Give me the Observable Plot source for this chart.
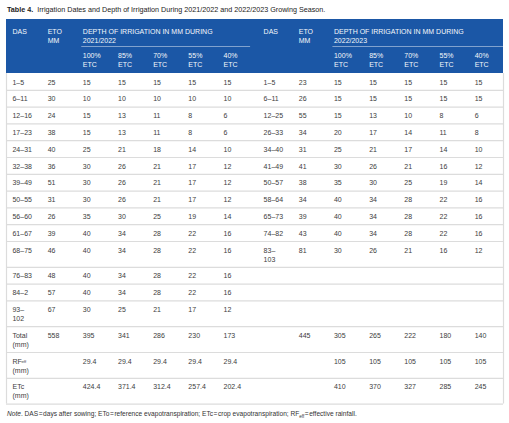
<!DOCTYPE html>
<html><head><meta charset="utf-8">
<script src="https://cdn.jsdelivr.net/npm/d3@7"></script>
<script src="https://cdn.jsdelivr.net/npm/@observablehq/plot@0.6"></script>
<style>
body{margin:0;background:#fff;font-family:"Liberation Sans",Arial,sans-serif;}
#title{height:19px;line-height:19px;padding-left:7px;font-size:7.2px;color:#222;white-space:nowrap}
#chart svg{display:block}
#note{padding-left:7px;font-size:6.6px;color:#333;line-height:16px;white-space:nowrap}
</style></head><body>
<div id="title"><b>Table 4.</b>&nbsp; Irrigation Dates and Depth of Irrigation During 2021/2022 and 2022/2023 Growing Season.</div>
<div id="chart"></div>
<div id="note"><i>Note</i>. DAS&#8202;=&#8202;days after sowing; ETo&#8202;=&#8202;reference evapotranspiration; ETc&#8202;=&#8202;crop evapotranspiration; RF<sub style="font-size:4.5px">eff</sub>&#8202;=&#8202;effective rainfall.</div>
<script>
// ---- header labels ----
const headLeft  = ["DAS", "ETO\nMM", "DEPTH OF IRRIGATION IN MM DURING\n2021/2022"];
const headRight = ["DAS", "ETO\nMM", "DEPTH OF IRRIGATION IN MM DURING\n2022/2023"];
const etcLabels = ["100%\nETC", "85%\nETC", "70%\nETC", "55%\nETC", "40%\nETC"];

// ---- 2021/2022 ----
const das1   = ["1–5","6–11","12–16","17–23","24–31","32–38","39–49","50–55","56–60","61–67","68–75","76–83","84–2","93–\n102"];
const eto1   = [25,30,24,38,40,36,51,31,26,39,46,48,57,67];
const c100_1 = [15,10,15,15,25,30,30,30,35,40,40,40,40,30];
const c85_1  = [15,10,13,13,21,26,26,26,30,34,34,34,34,25];
const c70_1  = [15,10,11,11,18,21,21,21,25,28,28,28,28,21];
const c55_1  = [15,10,8,8,14,17,17,17,19,22,22,22,22,17];
const c40_1  = [15,10,6,6,10,12,12,12,14,16,16,16,16,12];
const total1 = [558,395,341,286,230,173];
const rf1    = ["",29.4,29.4,29.4,29.4,29.4];
const etc1   = ["",424.4,371.4,312.4,257.4,202.4];

// ---- 2022/2023 ----
const das2   = ["1–5","6–11","12–25","26–33","34–40","41–49","50–57","58–64","65–73","74–82","83–\n103"];
const eto2   = [23,26,55,34,31,41,38,34,39,43,81];
const c100_2 = [15,15,15,20,25,30,35,40,40,40,30];
const c85_2  = [15,15,13,17,21,26,30,34,34,34,26];
const c70_2  = [15,15,10,14,17,21,25,28,28,28,21];
const c55_2  = [15,15,8,11,14,16,19,22,22,22,16];
const c40_2  = [15,15,6,8,10,12,14,16,16,16,12];
const total2 = [445,305,265,222,180,140];
const rf2    = ["",105,105,105,105,105];
const etc2   = ["",410,370,327,285,245];

const summaryLabels = ["Total\n(mm)", "RF\n(mm)", "ETc\n(mm)"];

// ---- layout constants (style) ----
const BLUE = "#1b57a6", TEXT = "#3d3d3d", GRID = "#dcdcdc";
const FS = 7, LH = 1.29;
const X_MIN = -0.17, X_MAX = 13.96, RIGHT_OFFSET = 7.14, HALF_END = 6.77;
const HEAD_H = 54, HEAD_DIV = 27, ROW_H = 16.8, EXTRA = 9, PAD = 4.6, HEAD_PAD = 7.6;

// ---- build table ----
const rows = [];
for (let i = 0; i < das1.length; i++) {
  const left = [das1[i], eto1[i], c100_1[i], c85_1[i], c70_1[i], c55_1[i], c40_1[i]];
  const right = i < das2.length ? [das2[i], eto2[i], c100_2[i], c85_2[i], c70_2[i], c55_2[i], c40_2[i]] : [];
  rows.push({left, right});
}
const sumL = [total1, rf1, etc1], sumR = [total2, rf2, etc2];
summaryLabels.forEach((lab, k) => rows.push({left: [lab, ...sumL[k]], right: ["", ...sumR[k]]}));

const cells = [], bottoms = [];
let yCur = HEAD_H;
for (const r of rows) {
  const lines = d3.max([...r.left, ...r.right], v => String(v).split("\n").length);
  r.left.forEach((v, c) => cells.push({x: c, y: yCur + PAD, text: String(v)}));
  r.right.forEach((v, c) => cells.push({x: c + RIGHT_OFFSET, y: yCur + PAD, text: String(v)}));
  if (r.left[0] === summaryLabels[1]) r.sub = {x: 0, y: yCur + PAD, text: "eff"};
  yCur += ROW_H + (lines - 1) * EXTRA;
  bottoms.push({y: yCur, x1: X_MIN, x2: X_MAX});
}
const TABLE_BOTTOM = yCur;
const SVG_H = Math.ceil(TABLE_BOTTOM + 2);
const subs = rows.filter(r => r.sub).map(r => r.sub);

const headCells = [];
headLeft.forEach((t, c) => headCells.push({x: c, y: HEAD_PAD, text: t}));
headRight.forEach((t, c) => headCells.push({x: c + RIGHT_OFFSET, y: HEAD_PAD, text: t}));
etcLabels.forEach((t, c) => {
  headCells.push({x: c + 2, y: HEAD_DIV + 5, text: t});
  headCells.push({x: c + 2 + RIGHT_OFFSET, y: HEAD_DIV + 5, text: t});
});
const headDiv = [
  {y: HEAD_DIV, x1: 2 - 0.03, x2: HALF_END},
  {y: HEAD_DIV, x1: 2 + RIGHT_OFFSET - 0.03, x2: X_MAX}
];
const borders = [{x: X_MIN, y1: HEAD_H, y2: TABLE_BOTTOM}, {x: X_MAX, y1: HEAD_H, y2: TABLE_BOTTOM}];

const font = '"Liberation Sans", Arial, sans-serif';
const chart = Plot.plot({
  width: 509, height: SVG_H,
  marginLeft: 6, marginRight: 6, marginTop: 0, marginBottom: 0,
  style: {fontFamily: font, background: "#fff"},
  x: {domain: [X_MIN, X_MAX], axis: null},
  y: {domain: [0, SVG_H], range: [0, SVG_H], axis: null},
  marks: [
    Plot.rect([{x1: X_MIN, x2: X_MAX, y1: 0, y2: HEAD_H}], {x1: "x1", x2: "x2", y1: "y1", y2: "y2", fill: BLUE}),
    Plot.ruleY(headDiv, {y: "y", x1: "x1", x2: "x2", stroke: "#ffffff", strokeOpacity: 0.45, strokeWidth: 1}),
    Plot.ruleY(bottoms, {y: "y", x1: "x1", x2: "x2", stroke: GRID, strokeWidth: 1.2}),
    Plot.ruleX(borders, {x: "x", y1: "y1", y2: "y2", stroke: GRID, strokeWidth: 1.2}),
    Plot.text(headCells, {x: "x", y: "y", text: "text", textAnchor: "start", lineAnchor: "top", lineHeight: LH, fontSize: FS, fill: "#f4f7fb"}),
    Plot.text(cells, {x: "x", y: "y", text: "text", textAnchor: "start", lineAnchor: "top", lineHeight: LH, fontSize: FS, fill: TEXT}),
    Plot.text(subs, {x: "x", y: "y", text: "text", textAnchor: "start", lineAnchor: "top", fontSize: 4.3, dx: 9, dy: 3.2, fill: TEXT})
  ]
});
document.getElementById("chart").appendChild(chart);
</script>
</body></html>
